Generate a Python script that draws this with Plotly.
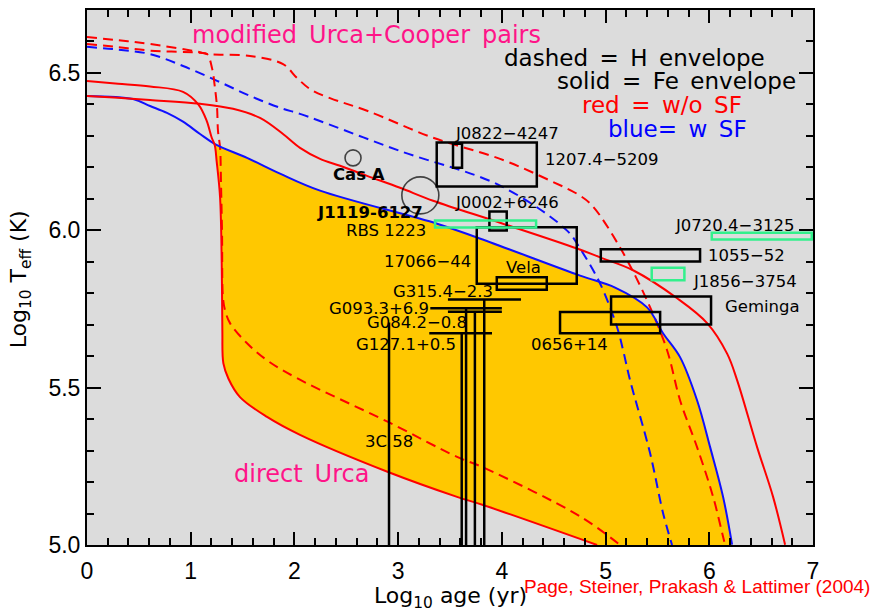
import numpy as np
import plotly.graph_objects as go

# ---- cooling curves: log10 age (yr) -> log10 Teff (K) ----
# modified Urca + Cooper pairs, Fe envelope, no superfluidity (red solid)
murca_fe_age = [0, 0.3, 0.608, 1.09, 1.408, 1.668, 1.89, 2.054, 2.247, 2.44, 2.70, 3.018, 3.337,
                3.983, 4.725, 4.947, 5.265, 5.69, 5.979, 6.172, 6.268, 6.461, 6.615, 6.731]
murca_fe_T = [6.427, 6.421, 6.414, 6.402, 6.386, 6.357, 6.306, 6.262, 6.227, 6.205, 6.173, 6.135,
              6.094, 6.024, 5.942, 5.914, 5.873, 5.784, 5.705, 5.608, 5.524, 5.311, 5.153, 5.001]

# modified Urca, H envelope, no superfluidity (red dashed)
murca_h_age = [0, 0.3, 0.608, 1.09, 1.157, 1.572, 1.89, 2.025, 2.15, 2.343, 2.70, 3.337, 3.983,
               4.465, 4.754, 4.88, 5.14, 5.40, 5.593, 5.718, 5.882, 6.037, 6.133, 6.16]
murca_h_T = [6.614, 6.604, 6.592, 6.566, 6.560, 6.554, 6.528, 6.484, 6.449, 6.420, 6.380, 6.294,
             6.227, 6.158, 6.11, 6.075, 5.945, 5.777, 5.619, 5.460, 5.311, 5.153, 5.026, 4.99]

# direct Urca, Fe envelope, no superfluidity (red solid)
durca_fe_age = [0, 0.3, 0.608, 0.926, 1.073, 1.154, 1.202, 1.232, 1.25, 1.283, 1.299, 1.305,
                1.315, 1.363, 1.475, 1.736, 2.054, 2.903, 3.568, 3.819, 4.918]
durca_fe_T = [6.474, 6.466, 6.457, 6.440, 6.40, 6.348, 6.295, 6.27, 6.22, 6.105, 5.894, 5.682,
              5.577, 5.529, 5.47, 5.407, 5.35, 5.232, 5.153, 5.127, 5.0]

# direct Urca, H envelope, no superfluidity (red dashed)
durca_h_age = [0, 0.3, 0.608, 1.09, 1.157, 1.205, 1.234, 1.254, 1.263, 1.283, 1.292, 1.302,
               1.311, 1.331, 1.379, 1.543, 1.736, 2.025, 2.903, 3.568, 3.809, 4.754, 5.14]
durca_h_T = [6.592, 6.582, 6.571, 6.564, 6.560, 6.516, 6.452, 6.389, 6.316, 6.262, 6.15, 5.99,
             5.787, 5.746, 5.705, 5.641, 5.587, 5.53, 5.391, 5.28, 5.248, 5.091, 5.0]

# with superfluidity, Fe envelope (blue solid)
sf_fe_age = [0, 0.444, 0.608, 0.771, 0.926, 1.09, 1.234, 1.543, 1.861, 2.247, 3.375, 3.761,
             4.754, 5.092, 5.40, 5.554, 5.718, 5.882, 6.008, 6.133, 6.22]
sf_fe_T = [6.427, 6.417, 6.395, 6.373, 6.345, 6.306, 6.274, 6.230, 6.180, 6.126, 6.021, 5.977,
           5.856, 5.818, 5.755, 5.673, 5.597, 5.460, 5.311, 5.153, 5.001]

# with superfluidity, H envelope (blue dashed)
sf_h_age = [0, 0.3, 0.608, 0.926, 1.254, 1.572, 1.89, 2.054, 3.018, 3.983, 4.629, 4.754, 4.947,
            5.111, 5.169, 5.236, 5.429, 5.554, 5.641]
sf_h_T = [6.583, 6.574, 6.560, 6.522, 6.475, 6.427, 6.386, 6.370, 6.252, 6.142, 5.999, 5.942,
          5.831, 5.692, 5.619, 5.524, 5.292, 5.102, 5.0]

# ---- observed neutron stars: error boxes ----
box_names = ["J0822-4247", "1207.4-5209", "J0002+6246", "17066-44", "Vela",
             "0656+14", "Geminga", "1055-52"]
box_age_lo = [3.529, 3.372, 3.880, 3.758, 3.951, 4.561, 5.053, 4.954]
box_age_hi = [3.616, 4.337, 4.047, 4.722, 4.433, 5.526, 6.017, 5.911]
box_T_lo = [6.199, 6.139, 5.999, 5.830, 5.811, 5.673, 5.701, 5.901]
box_T_hi = [6.275, 6.279, 6.060, 6.010, 5.851, 5.740, 5.790, 5.940]

# isolated thermal emitters (green boxes)
grn_names = ["RBS 1223", "J1856-3754", "J0720.4-3125"]
grn_age_lo = [3.356, 5.445, 6.024]
grn_age_hi = [4.330, 5.760, 6.988]
grn_T_lo = [6.009, 5.841, 5.971]
grn_T_hi = [6.031, 5.881, 5.992]

# upper limits: age range bar and limit line
lim_names = ["G315.4-2.3", "G093.3+6.9", "G084.2-0.8", "G127.1+0.5", "3C 58"]
lim_age_lo = [3.48, 3.31, 3.48, 3.30, 2.912]
lim_age_hi = [4.185, 4.00, 4.00, 3.905, 2.912]
lim_age_mid = [3.83, 3.655, 3.74, 3.613, 2.912]
lim_T = [5.780, 5.752, 5.741, 5.673, 5.707]

# point sources drawn as circles (marker diameter in px)
circ_names = ["Cas A", "J1119-6127"]
circ_age = [2.565, 3.214]
circ_T = [6.230, 6.111]
circ_size = [16, 37]

# ---- text labels ----
lbl_text = ["J0822\u22124247", "1207.4\u22125209", "<b>Cas A</b>", "<b>J1119-6127</b>",
            "J0002+6246", "RBS 1223", "17066\u221244", "Vela", "G315.4\u22122.3",
            "G093.3+6.9", "G084.2\u22120.8", "G127.1+0.5", "0656+14", "Geminga",
            "1055\u221252", "J1856\u22123754", "J0720.4\u22123125", "3C 58"]
lbl_age = [3.529, 4.397, 2.353, 2.199, 3.529, 2.478, 2.845, 4.021, 2.932, 2.314, 2.681,
           2.575, 4.262, 6.133, 5.969, 5.825, 5.651, 2.662]
lbl_T = [6.306, 6.226, 6.178, 6.058, 6.089, 5.999, 5.902, 5.882, 5.806, 5.753, 5.706,
         5.638, 5.638, 5.758, 5.920, 5.837, 6.015, 5.329]

SP = "\u2002"
key_text = ["dashed" + SP + "=" + SP + "H" + SP + "envelope",
            "solid" + SP + "=" + SP + "Fe" + SP + "envelope",
            "red" + SP + "=" + SP + "w/o" + SP + "SF",
            "blue=" + SP + "w" + SP + "SF"]
key_color = ["black", "black", "#FF0000", "#0000FF"]
key_age = [4.002, 4.513, 4.754, 5.005]
key_T = [6.549, 6.474, 6.397, 6.321]

RED = "#FF0000"
BLUE = "#1010FF"
PINK = "#FF1488"
GREEN = "#33F08C"
ORANGE = "#FFC800"
BG = "#DCDCDC"
DASH = "10px,6px"


def crossing(a1, t1, a2, t2, lo, hi):
    grid = np.linspace(lo, hi, 4001)
    d = np.interp(grid, a1, t1) - np.interp(grid, a2, t2)
    i = int(np.argmax(np.sign(d) != np.sign(d[0])))
    return grid[i], float(np.interp(grid[i], a2, t2))


fig = go.Figure()

# shaded band: below the superfluid Fe-envelope curve, above the direct-Urca curve
xa, ta = crossing(durca_fe_age, durca_fe_T, sf_fe_age, sf_fe_T, 1.1, 1.4)
top_a = [xa] + [a for a in sf_fe_age if a > xa]
top_t = [ta] + [t for a, t in zip(sf_fe_age, sf_fe_T) if a > xa]
fig.add_trace(go.Scatter(x=top_a, y=top_t, mode="lines", fill="tozeroy", fillcolor=ORANGE,
                         line=dict(width=0, shape="spline"), hoverinfo="skip",
                         showlegend=False))
low_a = [a for a in durca_fe_age if a >= 1.2]
low_t = [t for a, t in zip(durca_fe_age, durca_fe_T) if a >= 1.2]
fig.add_trace(go.Scatter(x=low_a, y=low_t, mode="lines", fill="tozeroy", fillcolor=BG,
                         line=dict(width=0, shape="spline"), hoverinfo="skip",
                         showlegend=False))

curves = [
    (sf_h_age, sf_h_T, BLUE, DASH),
    (murca_h_age, murca_h_T, RED, DASH),
    (durca_h_age, durca_h_T, RED, DASH),
    (sf_fe_age, sf_fe_T, BLUE, "solid"),
    (murca_fe_age, murca_fe_T, RED, "solid"),
    (durca_fe_age, durca_fe_T, RED, "solid"),
]
for a, t, c, d in curves:
    fig.add_trace(go.Scatter(x=a, y=t, mode="lines",
                             line=dict(color=c, width=2, dash=d, shape="spline"),
                             showlegend=False))

shapes = []
for a0, a1, t0, t1 in zip(box_age_lo, box_age_hi, box_T_lo, box_T_hi):
    shapes.append(dict(type="rect", xref="x", yref="y", x0=a0, x1=a1, y0=t0, y1=t1,
                       line=dict(color="black", width=2.5)))
for a0, a1, t0, t1 in zip(grn_age_lo, grn_age_hi, grn_T_lo, grn_T_hi):
    shapes.append(dict(type="rect", xref="x", yref="y", x0=a0, x1=a1, y0=t0, y1=t1,
                       line=dict(color=GREEN, width=2.5)))
for a0, a1, am, t in zip(lim_age_lo, lim_age_hi, lim_age_mid, lim_T):
    if a1 > a0:
        shapes.append(dict(type="line", xref="x", yref="y", x0=a0, x1=a1, y0=t, y1=t,
                           line=dict(color="black", width=2.5)))
    shapes.append(dict(type="line", xref="x", yref="y", x0=am, x1=am, y0=t, y1=5.0,
                       line=dict(color="black", width=2.5)))

fig.add_trace(go.Scatter(x=circ_age, y=circ_T, mode="markers", showlegend=False,
                         marker=dict(symbol="circle-open", size=circ_size, color="black",
                                     line=dict(width=1.6))))

ann = []
for s, a, t in zip(lbl_text, lbl_age, lbl_T):
    ann.append(dict(x=a, y=t, xref="x", yref="y", text=s, showarrow=False,
                    xanchor="left", yanchor="middle",
                    font=dict(family="DejaVu Sans", size=16.5, color="black")))
for s, c, a, t in zip(key_text, key_color, key_age, key_T):
    ann.append(dict(x=a, y=t, xref="x", yref="y", text=s, showarrow=False,
                    xanchor="left", yanchor="middle",
                    font=dict(family="DejaVu Sans", size=23, color=c)))
ann.append(dict(x=0.993, y=6.619, xref="x", yref="y",
                text="modified" + SP + "Urca+Cooper" + SP + "pairs",
                showarrow=False, xanchor="left", yanchor="middle",
                font=dict(family="DejaVu Sans", size=24, color=PINK)))
ann.append(dict(x=1.398, y=5.226, xref="x", yref="y", text="direct" + SP + "Urca",
                showarrow=False, xanchor="left", yanchor="middle",
                font=dict(family="DejaVu Sans", size=24, color=PINK)))

# axis titles and reference
ann.append(dict(x=0.5, y=-0.099, xref="paper", yref="paper",
                text="Log<sub>10</sub> age (yr)", showarrow=False,
                xanchor="center", yanchor="middle",
                font=dict(family="DejaVu Sans", size=22, color="black")))
ann.append(dict(x=-0.092, y=0.497, xref="paper", yref="paper",
                text="Log<sub>10</sub> T<sub>eff</sub> (K)", showarrow=False, textangle=-90,
                xanchor="center", yanchor="middle",
                font=dict(family="DejaVu Sans", size=22, color="black")))
ann.append(dict(x=1.081, y=-0.077, xref="paper", yref="paper",
                text="Page, Steiner, Prakash &amp; Lattimer (2004)", showarrow=False,
                xanchor="right", yanchor="middle",
                font=dict(family="Liberation Sans", size=19, color=RED)))

axis_common = dict(showgrid=False, zeroline=False, showline=True, linecolor="black",
                   linewidth=2, mirror="ticks", ticks="inside", tickcolor="black",
                   tickwidth=1.5, tickfont=dict(family="Liberation Sans", size=23,
                                                color="black"))

fig.update_layout(
    width=875, height=611,
    margin=dict(l=87, r=62, t=8, b=66),
    paper_bgcolor="white", plot_bgcolor=BG,
    shapes=shapes, annotations=ann, showlegend=False,
    xaxis=dict(range=[0, 7], dtick=1, tick0=0, ticklen=13, ticklabelstandoff=4,
               minor=dict(dtick=0.2, ticklen=7, ticks="inside", tickcolor="black",
                          tickwidth=1.5, showgrid=False),
               **axis_common),
    yaxis=dict(range=[5.0, 6.7], dtick=0.5, tick0=5.0, tickformat=".1f", ticklen=14,
               minor=dict(dtick=0.1, ticklen=7, ticks="inside", tickcolor="black",
                          tickwidth=1.5, showgrid=False),
               **axis_common),
)

fig.write_html("out.html")
